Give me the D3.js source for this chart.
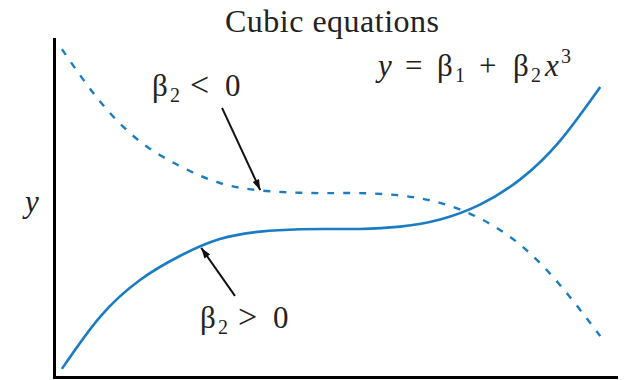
<!DOCTYPE html>
<html>
<head>
<meta charset="utf-8">
<script src="https://cdn.jsdelivr.net/npm/d3@7"></script>
<style>
  html, body { margin: 0; padding: 0; background: #fff; }
  svg { display: block; }
  text { font-family: "Liberation Serif", "DejaVu Serif", serif; fill: #222; }
</style>
</head>
<body>
<svg id="chart" width="628" height="380"></svg>
<script>
// Sample points along the two cubic curves (arbitrary units, 0–10 on both axes)
const xs        = [0.14, 0.82, 1.53, 2.24, 2.95, 3.67, 4.38, 4.91, 5.44, 6.16, 6.87, 7.58, 8.29, 9.00, 9.72];
const positiveY = [0.24, 1.78, 2.87, 3.58, 4.08, 4.30, 4.37, 4.38, 4.38, 4.45, 4.66, 5.10, 5.84, 6.98, 8.58];
const negativeY = [9.70, 8.15, 6.97, 6.24, 5.74, 5.52, 5.45, 5.44, 5.44, 5.37, 5.15, 4.69, 3.92, 2.73, 1.21];

const title = "Cubic equations";
const yLabel = "y";

const svg = d3.select("#chart");
const x = d3.scaleLinear().domain([0, 10]).range([54, 616]);
const y = d3.scaleLinear().domain([0, 10]).range([377, 39]);

const blue = "#1a7cc3";

// Axes: plain frame lines on the left and bottom, no ticks
svg.append("g")
  .attr("transform", `translate(0,${y(0)})`)
  .call(d3.axisBottom(x).tickValues([]).tickSizeOuter(0))
  .call(g => g.select(".domain").attr("stroke", "#000").attr("stroke-width", 3).attr("stroke-linecap", "square"));
svg.append("g")
  .attr("transform", `translate(${x(0)},0)`)
  .call(d3.axisLeft(y).tickValues([]).tickSizeOuter(0))
  .call(g => g.select(".domain").attr("stroke", "#000").attr("stroke-width", 3).attr("stroke-linecap", "square"));

// Curves
const line = d3.line()
  .x(d => x(d[0]))
  .y(d => y(d[1]))
  .curve(d3.curveNatural);

svg.append("path")
  .datum(xs.map((v, i) => [v, negativeY[i]]))
  .attr("fill", "none")
  .attr("stroke", blue)
  .attr("stroke-width", 2.4)
  .attr("stroke-dasharray", "7,9")
  .attr("d", line);

svg.append("path")
  .datum(xs.map((v, i) => [v, positiveY[i]]))
  .attr("fill", "none")
  .attr("stroke", blue)
  .attr("stroke-width", 2.6)
  .attr("d", line);

// Arrowhead marker
svg.append("defs").append("marker")
  .attr("id", "arrow")
  .attr("viewBox", "0 0 12 8")
  .attr("refX", 12).attr("refY", 4)
  .attr("markerWidth", 12).attr("markerHeight", 7)
  .attr("markerUnits", "userSpaceOnUse")
  .attr("orient", "auto")
  .append("path")
  .attr("d", "M0,0 L12,4 L0,8 Z")
  .attr("fill", "#111");

function arrow(x1, y1, x2, y2) {
  svg.append("line")
    .attr("x1", x(x1)).attr("y1", y(y1))
    .attr("x2", x(x2)).attr("y2", y(y2))
    .attr("stroke", "#111")
    .attr("stroke-width", 2)
    .attr("marker-end", "url(#arrow)");
}
arrow(2.99, 7.96, 3.67, 5.53);
arrow(3.22, 2.40, 2.62, 3.82);

// Title
svg.append("text")
  .attr("x", 332).attr("y", 32)
  .attr("text-anchor", "middle")
  .attr("font-size", 32)
  .attr("textLength", 214)
  .text(title);

// Axis label
svg.append("text")
  .attr("x", 25).attr("y", 212)
  .attr("font-size", 31)
  .attr("font-style", "italic")
  .text(yLabel);

// Coefficient labels, glyphs spaced out as in typeset math
function betaLabel(px, py, rel) {
  const t = svg.append("text").attr("y", py).attr("font-size", 31);
  t.append("tspan").attr("x", px).text("β");
  t.append("tspan").attr("x", px + 18).attr("font-size", 20).attr("dy", 6).text("2");
  t.append("tspan").attr("x", px + 38).attr("dy", -6).attr("font-size", 34).text(rel);
  t.append("tspan").attr("x", px + 73).text("0");
}
betaLabel(152, 96, "<");
betaLabel(200, 328, ">");

// Model equation
const eq = svg.append("text").attr("y", 76).attr("font-size", 31);
eq.append("tspan").attr("x", 378).attr("font-style", "italic").text("y");
eq.append("tspan").attr("x", 405).text("=");
eq.append("tspan").attr("x", 437).text("β");
eq.append("tspan").attr("x", 455).attr("font-size", 20).attr("dy", 6).text("1");
eq.append("tspan").attr("x", 479).attr("dy", -6).text("+");
eq.append("tspan").attr("x", 513).text("β");
eq.append("tspan").attr("x", 531).attr("font-size", 20).attr("dy", 6).text("2");
eq.append("tspan").attr("x", 545).attr("dy", -6).attr("font-style", "italic").text("x");
eq.append("tspan").attr("x", 561).attr("font-size", 20).attr("dy", -13).text("3");
</script>
</body>
</html>
